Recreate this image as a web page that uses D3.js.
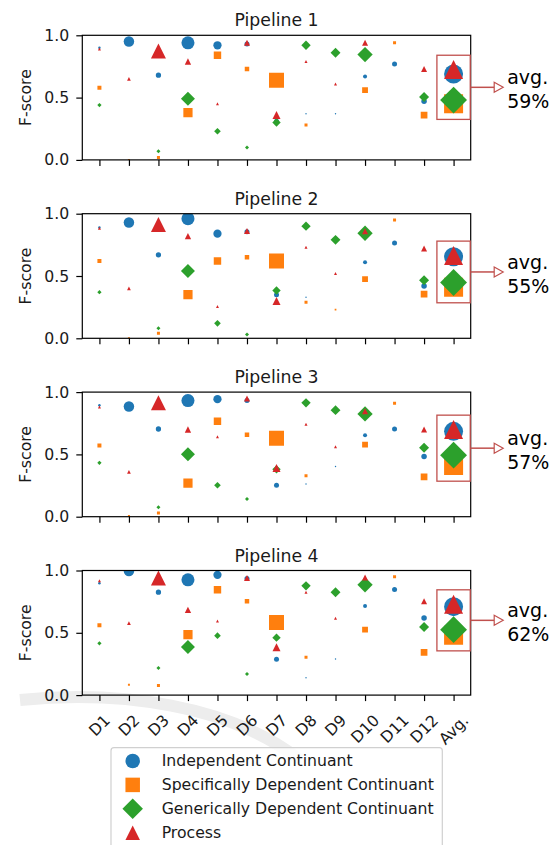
<!DOCTYPE html>
<html>
<head>
<meta charset="utf-8">
<script src="https://cdn.jsdelivr.net/npm/d3@7"></script>
<style>
  html, body { margin: 0; padding: 0; background: #fff; }
  svg { display: block; font-family: "DejaVu Sans", sans-serif; }
</style>
</head>
<body>
<svg id="chart" width="558" height="845"></svg>
<script>
// ---------------- data ----------------
const datasets = ["D1","D2","D3","D4","D5","D6","D7","D8","D9","D10","D11","D12"];
const xLabels = ["D1","D2","D3","D4","D5","D6","D7","D8","D9","D10","D11","D12","Avg."];
const classNames = ["Independent Continuant","Specifically Dependent Continuant","Generically Dependent Continuant","Process"];
const pipelineTitles = ["Pipeline 1","Pipeline 2","Pipeline 3","Pipeline 4"];
const avgLabels = ["59%","55%","57%","62%"];
const yTicks = [0.0, 0.5, 1.0];

// support (marker area) per dataset and class, shared by all pipelines
const supIC  = [6, 110, 28, 170, 68, 25, 25, 2, 2, 16, 25, 30];
const supSDC = [16, 4, 9, 85, 55, 20, 225, 9, 3, 34, 9, 45];
const supGDC = [9, null, 8, 98, 22, 8, 35, 44, 49, 117, null, 50];
const supPRC = [9, 14, 225, 40, 9, 36, 64, 9, 9, 36, null, 36];

// Pipeline 1
const p1IC  = [0.90, 0.95, 0.68, 0.94, 0.92, 0.93, 0.31, 0.37, 0.37, 0.67, 0.77, 0.47];
const p1SDC = [0.58, 0.00, 0.02, 0.38, 0.84, 0.73, 0.64, 0.28, null, 0.56, 0.94, 0.36];
const p1GDC = [0.44, null, 0.07, 0.49, 0.23, 0.10, 0.30, 0.92, 0.86, 0.845, null, 0.505];
const p1PRC = [0.89, 0.65, 0.875, 0.79, 0.45, 0.94, 0.36, 0.79, 0.61, 0.94, null, 0.73];
const p1Avg = [0.69, 0.45, 0.48, 0.725];
// Pipeline 2
const p2IC  = [0.89, 0.93, 0.67, 0.96, 0.84, 0.855, 0.35, 0.33, null, 0.61, 0.765, 0.42];
const p2SDC = [0.62, 0.00, 0.04, 0.35, 0.62, 0.65, 0.62, 0.29, 0.23, 0.475, 0.95, 0.354];
const p2GDC = [0.37, null, 0.08, 0.54, 0.12, 0.03, 0.384, 0.90, 0.79, 0.843, null, 0.465];
const p2PRC = [0.884, 0.40, 0.913, 0.82, 0.256, 0.862, 0.30, 0.73, 0.52, 0.86, null, 0.72];
const p2Avg = [0.655, 0.41, 0.448, 0.665];
// Pipeline 3
const p3IC  = [0.895, 0.884, 0.704, 0.932, 0.943, 0.932, 0.252, 0.263, 0.403, 0.653, 0.704, 0.484];
const p3SDC = [0.572, 0.005, 0.03, 0.269, 0.766, 0.658, 0.629, 0.328, null, 0.578, 0.911, 0.32];
const p3GDC = [0.432, null, 0.075, 0.502, 0.252, 0.142, 0.38, 0.914, 0.855, 0.825, null, 0.553];
const p3PRC = [0.881, 0.36, 0.914, 0.70, 0.642, 0.949, 0.39, 0.742, 0.561, 0.847, null, 0.70];
const p3Avg = [0.685, 0.41, 0.494, 0.70];
// Pipeline 4
const p4IC  = [0.898, 0.995, 0.826, 0.925, 0.965, 0.935, 0.287, 0.139, 0.29, 0.716, 0.847, 0.619];
const p4SDC = [0.561, 0.083, 0.078, 0.485, 0.845, 0.754, 0.582, 0.303, null, 0.525, 0.949, 0.343];
const p4GDC = [0.416, null, 0.217, 0.386, 0.477, 0.169, 0.461, 0.877, 0.826, 0.885, null, 0.547];
const p4PRC = [0.917, 0.577, 0.939, 0.684, 0.595, 0.939, 0.384, 0.826, 0.617, 0.944, null, 0.754];
const p4Avg = [0.71, 0.48, 0.525, 0.73];

const pipelines = [
  {title: pipelineTitles[0], series: [p1IC, p1SDC, p1GDC, p1PRC], avg: p1Avg, label: avgLabels[0]},
  {title: pipelineTitles[1], series: [p2IC, p2SDC, p2GDC, p2PRC], avg: p2Avg, label: avgLabels[1]},
  {title: pipelineTitles[2], series: [p3IC, p3SDC, p3GDC, p3PRC], avg: p3Avg, label: avgLabels[2]},
  {title: pipelineTitles[3], series: [p4IC, p4SDC, p4GDC, p4PRC], avg: p4Avg, label: avgLabels[3]},
];
const supports = [supIC, supSDC, supGDC, supPRC];

// ---------------- style ----------------
const colors = ["#1f77b4", "#ff7f0e", "#2ca02c", "#d62728"];
const shapes = ["circle", "square", "diamond", "triangle"];
const annoColor = "#c0504d";
const FS = 15.7;

function markerPath(shape, ms) {
  const h = ms / 2;
  if (shape === "circle") {
    const p = d3.path(); p.arc(0, 0, h, 0, 2 * Math.PI); p.closePath(); return p.toString();
  }
  if (shape === "square") return `M${-h},${-h}H${h}V${h}H${-h}Z`;
  if (shape === "diamond") { const d = ms * 0.7071; return `M0,${-d}L${d},0L0,${d}L${-d},0Z`; }
  return `M0,${-h}L${h},${h}L${-h},${h}Z`;
}

const svg = d3.select("#chart");

// faint page watermark swoosh
svg.append("path").attr("d", "M20,700 C120,690 230,705 300,760")
  .attr("fill", "none").attr("stroke", "#ededed").attr("stroke-width", 12);

const left = 82.3, right = 470.7;
const x = d3.scaleLinear().domain([-0.58, 12.58]).range([left, right]);
const sizeScale = d3.scaleSqrt().domain([0, 225]).range([0, 15]);
const avgSize = 19;

const panelTop0 = 35.3, panelStep = 178.4, panelH = 124.6;

pipelines.forEach((pl, pi) => {
  const top = panelTop0 + pi * panelStep, bottom = top + panelH;
  const y = d3.scaleLinear().domain([0, 1]).range([bottom, top]);
  const g = svg.append("g");

  const clipId = "clip" + pi;
  svg.append("clipPath").attr("id", clipId).append("rect")
    .attr("x", left).attr("y", top).attr("width", right - left).attr("height", panelH);

  const plot = g.append("g").attr("clip-path", `url(#${clipId})`);
  pl.series.forEach((vals, ci) => {
    const pts = vals.map((v, di) => ({v, di, s: supports[ci][di]}))
      .filter(d => d.v !== null && d.s !== null);
    plot.selectAll(null).data(pts).enter().append("path")
      .attr("d", d => markerPath(shapes[ci], sizeScale(d.s)))
      .attr("transform", d => `translate(${x(d.di)},${y(d.v)})`)
      .attr("fill", colors[ci]);
  });
  pl.avg.forEach((v, ci) => {
    plot.append("path").attr("d", markerPath(shapes[ci], avgSize))
      .attr("transform", `translate(${x(12)},${y(v)})`).attr("fill", colors[ci]);
  });

  // axes
  const xAxis = d3.axisBottom(x).tickValues(d3.range(13)).tickSize(6).tickFormat("");
  const gx = g.append("g").attr("transform", `translate(0,${bottom})`).call(xAxis);
  gx.select(".domain").remove();
  gx.selectAll("line").attr("stroke", "#000").attr("stroke-width", 1.2);

  const yAxis = d3.axisLeft(y).tickValues(yTicks).tickSize(6).tickPadding(7).tickFormat(d3.format(".1f"));
  const gy = g.append("g").attr("transform", `translate(${left},0)`).call(yAxis);
  gy.select(".domain").remove();
  gy.selectAll("line").attr("stroke", "#000").attr("stroke-width", 1.2);
  gy.selectAll("text").attr("font-size", FS).attr("font-family", "DejaVu Sans").attr("fill", "#1a1a1a");

  g.append("rect").attr("x", left).attr("y", top).attr("width", right - left).attr("height", panelH)
    .attr("fill", "none").attr("stroke", "#000").attr("stroke-width", 1.2);

  g.append("text").attr("x", (left + right) / 2).attr("y", top - 9).attr("text-anchor", "middle")
    .attr("font-size", 17.3).attr("fill", "#1a1a1a").text(pl.title);

  const midY = (top + bottom) / 2;
  g.append("text").attr("transform", `translate(25,${midY}) rotate(-90)`).attr("text-anchor", "middle")
    .attr("dy", "0.35em").attr("font-size", FS).attr("fill", "#1a1a1a").text("F-score");

  if (pi === pipelines.length - 1) {
    const lh = 1.164 * FS;
    xLabels.forEach((lab, i) => {
      const t = g.append("text").attr("text-anchor", "middle").attr("dy", "0.35em")
        .attr("font-size", FS).attr("fill", "#1a1a1a").text(lab);
      const w = t.node().getComputedTextLength();
      const cy = bottom + 16 + (w + lh) * 0.3536;
      t.attr("transform", `translate(${x(i)},${cy}) rotate(-45)`);
    });
  }

  // avg annotation
  const vmax = d3.max(pl.avg), vmin = d3.min(pl.avg);
  const rx0 = x(12 - 0.565), rx1 = x(12 + 0.565);
  const ry0 = y(vmax + 0.115), ry1 = y(vmin - 0.125);
  g.append("rect").attr("x", rx0).attr("y", ry0).attr("width", rx1 - rx0).attr("height", ry1 - ry0)
    .attr("fill", "none").attr("stroke", annoColor).attr("stroke-width", 1.3);
  const ay = (ry0 + ry1) / 2;
  const tipX = right + 32.5, baseX = tipX - 9;
  g.append("line").attr("x1", rx1).attr("x2", baseX).attr("y1", ay).attr("y2", ay)
    .attr("stroke", annoColor).attr("stroke-width", 1.5);
  g.append("path").attr("d", `M${baseX},${ay - 5}L${tipX},${ay}L${baseX},${ay + 5}Z`)
    .attr("fill", "#fff").attr("stroke", annoColor).attr("stroke-width", 1.2);
  const at = g.append("text").attr("x", tipX + 4).attr("font-size", 19).attr("fill", "#000");
  at.append("tspan").attr("x", tipX + 4).attr("y", ay - 3).text("avg.");
  at.append("tspan").attr("x", tipX + 4).attr("y", ay + 21).text(pl.label);
});

// legend
const lg = svg.append("g");
lg.append("rect").attr("x", 111).attr("y", 747.7).attr("width", 331.3).attr("height", 120).attr("rx", 3)
  .attr("fill", "#fff").attr("fill-opacity", 0.8).attr("stroke", "#d0d0d0").attr("stroke-width", 1.2);
const rowY = d3.scalePoint().domain(classNames).range([761, 832.7]);
classNames.forEach((name, ci) => {
  lg.append("path").attr("d", markerPath(shapes[ci], 14.5))
    .attr("transform", `translate(132.7,${rowY(name)})`).attr("fill", colors[ci]);
  lg.append("text").attr("x", 161.7).attr("y", rowY(name)).attr("dy", "0.35em")
    .attr("font-size", FS).attr("fill", "#1a1a1a").text(name);
});
</script>
</body>
</html>
